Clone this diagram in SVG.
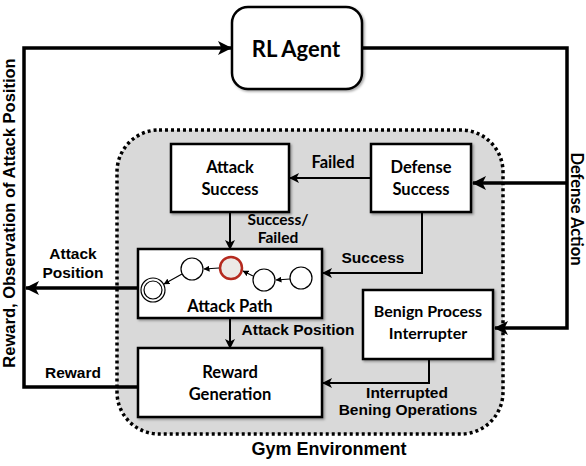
<svg xmlns="http://www.w3.org/2000/svg" width="586" height="466" viewBox="0 0 586 466">
<defs>
<style>
.box{fill:#fff;stroke:#000;stroke-width:2.5;filter:url(#sh)}
.lbl{font-family:Lato,"Liberation Sans",sans-serif;font-weight:bold;font-size:16.5px;fill:#000;text-anchor:middle}
.ar{font-family:"Liberation Sans",Arial,sans-serif;font-weight:bold;font-size:15.5px;fill:#000;text-anchor:middle}
.big{stroke:#000;stroke-width:3.5;fill:none}
.thin{stroke:#000;stroke-width:2;fill:none}
.st{fill:#fff;stroke:#000;stroke-width:1.2}
.sa{stroke:#000;stroke-width:1.2;fill:none}
</style>
<filter id="sh" x="-10%" y="-10%" width="130%" height="130%">
<feDropShadow dx="1.5" dy="1.5" stdDeviation="1.2" flood-color="#000" flood-opacity="0.35"/>
</filter>
<marker id="aB" markerWidth="10" markerHeight="10" refX="9" refY="5" orient="auto" markerUnits="userSpaceOnUse" viewBox="0 0 10 10">
<path d="M0,0 L10,5 L0,10 L2.5,5 z" fill="#000"/>
</marker>
<marker id="aBig" markerWidth="14" markerHeight="14" refX="13" refY="7" orient="auto" markerUnits="userSpaceOnUse" viewBox="0 0 14 14">
<path d="M0,0 L14,7 L0,14 L3.5,7 z" fill="#000"/>
</marker>
<marker id="aS" markerWidth="6" markerHeight="6" refX="5.5" refY="3" orient="auto" markerUnits="userSpaceOnUse" viewBox="0 0 6 6">
<path d="M0,0 L6,3 L0,6 z" fill="#000"/>
</marker>
</defs>

<g id="gym-environment">
<rect x="117" y="130" width="386" height="304" rx="42" ry="42" fill="#d9d9d9" stroke="#000" stroke-width="3.5" stroke-dasharray="3 3"/>
<text class="ar" x="329" y="455" style="font-size:18px">Gym Environment</text>
</g>

<g id="connectors">
<!-- left loop -->
<polyline class="big" points="138,387 24,387 24,48 231,48" marker-end="url(#aBig)"/>
<line class="big" x1="138" y1="288" x2="26" y2="288" marker-end="url(#aBig)"/>
<!-- right loop -->
<polyline class="big" points="362,48 567,48 567,328 495,328" marker-end="url(#aBig)"/>
<line class="big" x1="567" y1="183" x2="473" y2="183" marker-end="url(#aBig)"/>
<!-- inner -->
<line class="thin" x1="371" y1="178" x2="290" y2="178" marker-end="url(#aB)"/>
<line class="thin" x1="230" y1="212" x2="230" y2="249" marker-end="url(#aB)"/>
<polyline class="thin" points="422,212 422,273 323,273" marker-end="url(#aB)"/>
<line class="thin" x1="230" y1="318" x2="230" y2="348" marker-end="url(#aB)"/>
<polyline class="thin" points="429,359 429,383 323,383" marker-end="url(#aB)"/>
<text class="lbl" x="333" y="168">Failed</text>
<text class="lbl" x="278" y="225" style="font-size:15.5px">Success/</text>
<text class="lbl" x="278" y="243" style="font-size:15.5px">Failed</text>
<text class="ar" x="373" y="263">Success</text>
<text class="ar" x="298" y="335">Attack Position</text>
<text class="ar" x="407" y="398">Interrupted</text>
<text class="ar" x="408" y="415">Bening Operations</text>
<text class="ar" x="73" y="259">Attack</text>
<text class="ar" x="73" y="278">Position</text>
<text class="ar" x="73" y="378">Reward</text>
<text class="ar" transform="translate(15,213) rotate(-90)" style="font-size:16.5px">Reward, Observation of Attack Position</text>
<text class="lbl" transform="translate(571,209) rotate(90)" style="font-size:16.5px">Defense Action</text>
</g>

<g id="rl-agent">
<rect x="232" y="7" width="130" height="82" rx="16" ry="16" fill="#fff" stroke="#000" stroke-width="2.5" filter="url(#sh)"/>
<text class="lbl" x="296" y="57" style="font-size:22px">RL Agent</text>
</g>

<g id="attack-success">
<rect class="box" x="171" y="144" width="118" height="68"/>
<text class="lbl" x="230" y="173">Attack</text>
<text class="lbl" x="230" y="195">Success</text>
</g>

<g id="defense-success">
<rect class="box" x="371" y="144" width="100" height="68"/>
<text class="lbl" x="421" y="173">Defense</text>
<text class="lbl" x="421" y="195">Success</text>
</g>

<g id="attack-path">
<rect class="box" x="138" y="249" width="184" height="69"/>
<circle class="st" cx="153" cy="290" r="12"/>
<circle class="st" cx="153" cy="290" r="9"/>
<circle class="st" cx="192" cy="269" r="11"/>
<circle cx="231" cy="268" r="11" fill="#ece9e6" stroke="#b52a1f" stroke-width="2.5"/>
<circle class="st" cx="264" cy="280" r="11"/>
<circle class="st" cx="301" cy="278" r="11"/>
<line class="sa" x1="290" y1="279" x2="276" y2="280" marker-end="url(#aS)"/>
<line class="sa" x1="253" y1="276" x2="243" y2="271" marker-end="url(#aS)"/>
<line class="sa" x1="219" y1="268" x2="204" y2="269" marker-end="url(#aS)"/>
<line class="sa" x1="182" y1="274" x2="164" y2="284" marker-end="url(#aS)"/>
<text class="lbl" x="230" y="312">Attack Path</text>
</g>

<g id="reward-generation">
<rect class="box" x="138" y="348" width="184" height="69"/>
<text class="lbl" x="230" y="378">Reward</text>
<text class="lbl" x="230" y="400">Generation</text>
</g>

<g id="benign-process-interrupter">
<rect class="box" x="363" y="290" width="130" height="69"/>
<text class="lbl" x="428" y="317" style="font-size:16px">Benign Process</text>
<text class="lbl" x="428" y="339" style="font-size:16px">Interrupter</text>
</g>
</svg>
